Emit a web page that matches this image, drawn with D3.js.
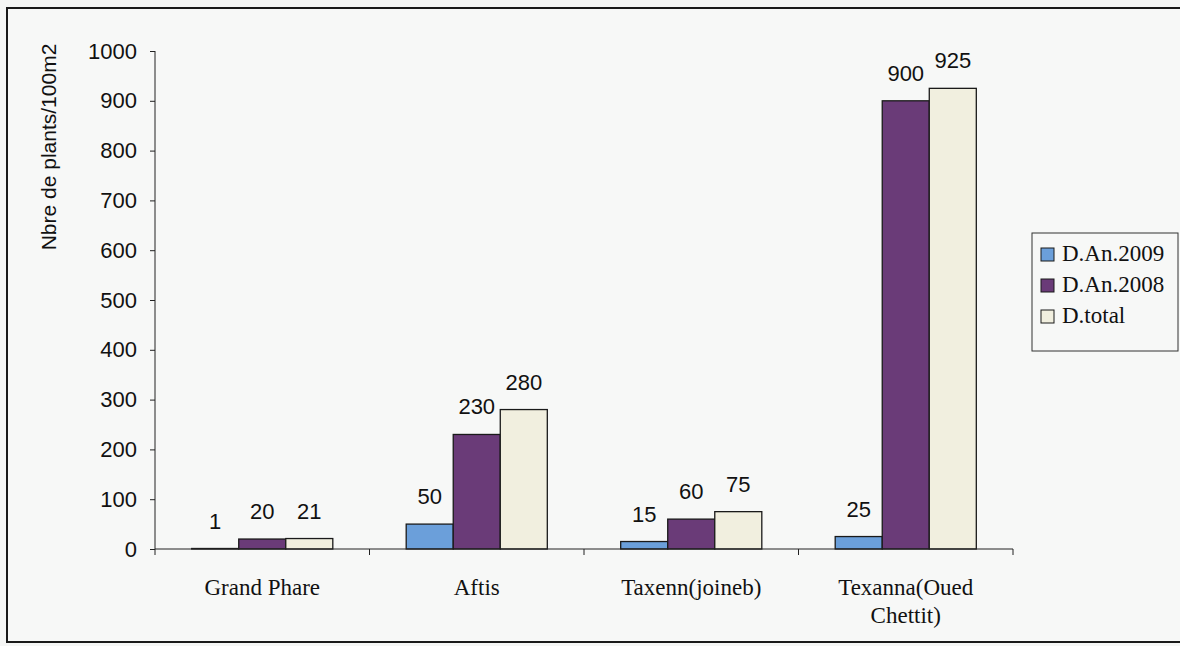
<!DOCTYPE html>
<html>
<head>
<meta charset="utf-8">
<script src="https://cdn.jsdelivr.net/npm/d3@7"></script>
<style>
  html, body { margin: 0; padding: 0; background: #f5f6f5; }
  svg { display: block; }
</style>
</head>
<body>
<div id="svgOutput"></div>
<script>
// data

const categories = ["Grand Phare", "Aftis", "Taxenn(joineb)", "Texanna(Oued Chettit)"];
const categoryLines = [["Grand Phare"], ["Aftis"], ["Taxenn(joineb)"], ["Texanna(Oued", "Chettit)"]];
const seriesNames = ["D.An.2009", "D.An.2008", "D.total"];
const an2009 = [1, 50, 15, 25];
const an2008 = [20, 230, 60, 900];
const total = [21, 280, 75, 925];
const yTicks = [0, 100, 200, 300, 400, 500, 600, 700, 800, 900, 1000];

(function () {
  // config

  const width = 1180;
  const height = 646;
  const margin = { top: 51, bottom: 97, left: 155, right: 167 };
  const colors = ["#6b9fda", "#6a3b78", "#f1efdf"];
  const sans = "Liberation Sans, Arial, sans-serif";
  const serif = "Liberation Serif, Times New Roman, serif";

  const svg = d3.select("#svgOutput")
    .append("svg")
    .attr("width", width)
    .attr("height", height);

  // outer frame
  svg.append("rect")
    .attr("x", 7).attr("y", 8)
    .attr("width", 1180).attr("height", 634)
    .attr("fill", "#f7f8f7")
    .attr("stroke", "#1a1a1a")
    .attr("stroke-width", 2);

  // scales

  const x0 = d3.scaleBand()
    .domain(categories)
    .range([margin.left, width - margin.right])
    .paddingInner(0)
    .paddingOuter(0);

  const x1 = d3.scaleBand()
    .domain(seriesNames)
    .range([0, x0.bandwidth()])
    .paddingInner(0)
    .paddingOuter(0.78);

  const y = d3.scaleLinear()
    .domain([0, 1000])
    .range([height - margin.bottom, margin.top]);

  const rows = categories.map((c, i) => ({
    cat: c,
    vals: [an2009[i], an2008[i], total[i]]
  }));

  // bars

  const groups = svg.selectAll("g.cat")
    .data(rows)
    .join("g")
    .attr("class", "cat")
    .attr("transform", d => "translate(" + x0(d.cat) + ",0)");

  groups.selectAll("rect.bar")
    .data(d => d.vals.map((v, k) => ({ s: seriesNames[k], v: v, k: k })))
    .join("rect")
    .attr("class", "bar")
    .attr("x", d => x1(d.s))
    .attr("y", d => y(d.v))
    .attr("width", x1.bandwidth())
    .attr("height", d => y(0) - y(d.v))
    .attr("fill", d => colors[d.k])
    .attr("stroke", "#1a1a1a")
    .attr("stroke-width", 1.3);

  groups.selectAll("text.val")
    .data(d => d.vals.map((v, k) => ({ s: seriesNames[k], v: v, k: k })))
    .join("text")
    .attr("class", "val")
    .attr("x", d => x1(d.s) + x1.bandwidth() / 2)
    .attr("y", d => y(d.v) - 20)
    .attr("text-anchor", "middle")
    .attr("font-family", sans)
    .attr("font-size", 22)
    .attr("fill", "#111")
    .text(d => d.v);

  // axes

  const yAxis = d3.axisLeft(y).tickValues(yTicks).tickSize(5).tickPadding(13).tickFormat(d3.format("d"));
  svg.append("g")
    .attr("transform", "translate(" + margin.left + ",0)")
    .call(yAxis)
    .call(g => g.selectAll(".domain").attr("stroke", "#222").attr("d", "M0," + y(0) + "V" + y(1000)))
    .call(g => g.selectAll(".tick line").attr("stroke", "#222"))
    .call(g => g.selectAll(".tick text")
      .attr("fill", "#111")
      .attr("font-family", sans)
      .attr("font-size", 22));

  const xAxis = d3.axisBottom(x0).tickSize(0).tickFormat("");
  const gx = svg.append("g")
    .attr("transform", "translate(0," + y(0) + ")")
    .call(xAxis)
    .call(g => g.selectAll(".domain").attr("stroke", "#222").attr("d", "M" + margin.left + ",0H" + (width - margin.right)));

  // category boundary ticks
  const bounds = categories.map(c => x0(c)).concat([x0(categories[categories.length - 1]) + x0.bandwidth()]);
  gx.selectAll("line.sep")
    .data(bounds)
    .join("line")
    .attr("class", "sep")
    .attr("x1", d => d).attr("x2", d => d)
    .attr("y1", 0).attr("y2", 6)
    .attr("stroke", "#222");

  // category labels
  const catText = svg.selectAll("text.cat")
    .data(categories)
    .join("text")
    .attr("class", "cat")
    .attr("x", d => x0(d) + x0.bandwidth() / 2)
    .attr("y", 595)
    .attr("text-anchor", "middle")
    .attr("font-family", serif)
    .attr("font-size", 23)
    .attr("fill", "#111");

  catText.selectAll("tspan")
    .data((d, i) => categoryLines[i].map(l => ({ l: l, x: x0(d) + x0.bandwidth() / 2 })))
    .join("tspan")
    .attr("x", d => d.x)
    .attr("dy", (d, i) => i === 0 ? 0 : 28)
    .text(d => d.l);

  // y title
  svg.append("text")
    .attr("transform", "translate(56,147) rotate(-90)")
    .attr("text-anchor", "middle")
    .attr("font-family", sans)
    .attr("font-size", 21)
    .attr("fill", "#111")
    .text("Nbre de plants/100m2");

  // legend
  const legend = svg.append("g");
  legend.append("rect")
    .attr("x", 1032).attr("y", 233)
    .attr("width", 146).attr("height", 118)
    .attr("fill", "#f7f8f7")
    .attr("stroke", "#333")
    .attr("stroke-width", 1);

  const items = legend.selectAll("g.item")
    .data(seriesNames)
    .join("g")
    .attr("class", "item")
    .attr("transform", (d, i) => "translate(1041," + (248 + i * 31) + ")");

  items.append("rect")
    .attr("width", 13).attr("height", 13)
    .attr("fill", (d, i) => colors[i])
    .attr("stroke", "#1a1a1a")
    .attr("stroke-width", 1);

  items.append("text")
    .attr("x", 21).attr("y", 13)
    .attr("font-family", serif)
    .attr("font-size", 23)
    .attr("fill", "#111")
    .text(d => d);
})();
</script>
</body>
</html>
